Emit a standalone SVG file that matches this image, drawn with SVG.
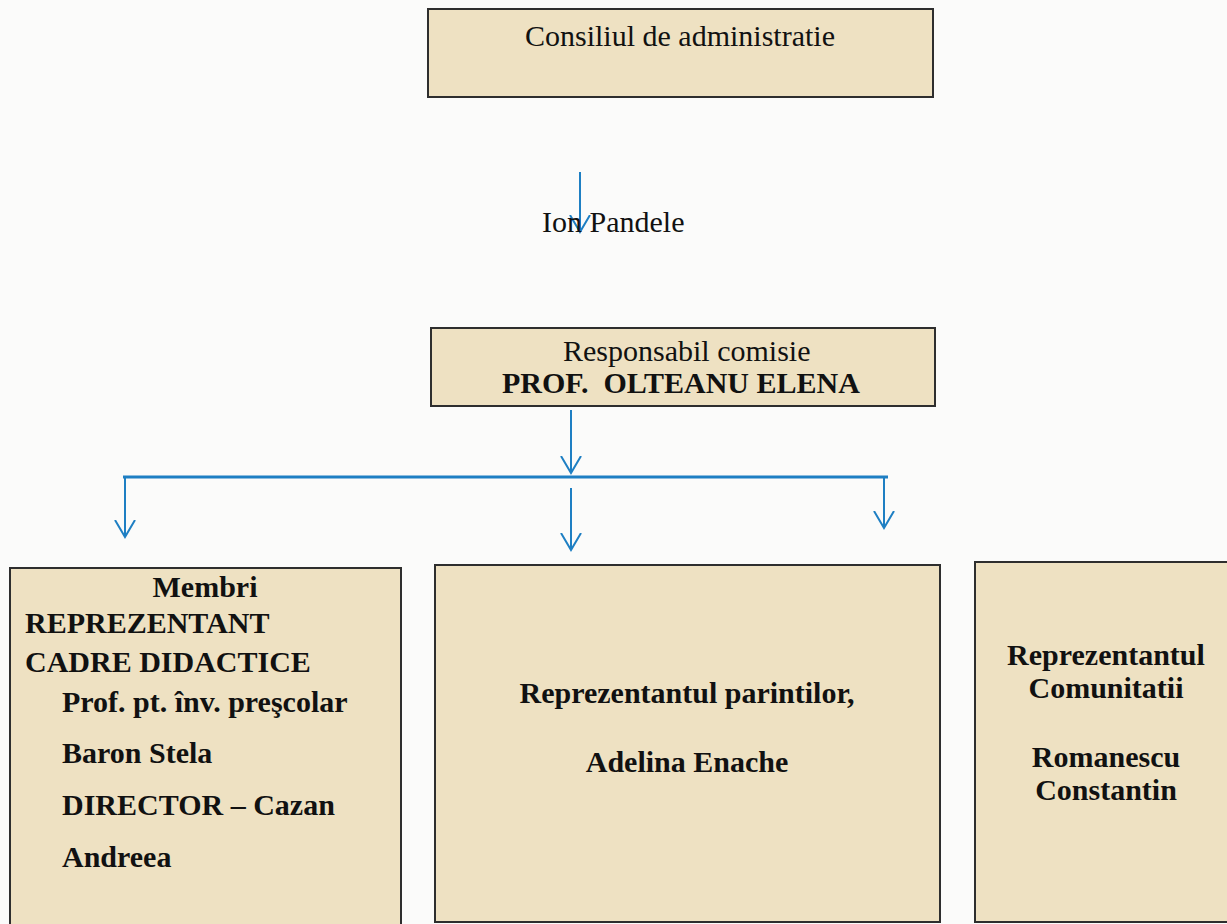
<svg xmlns="http://www.w3.org/2000/svg" width="1227" height="924" viewBox="0 0 1227 924">
<style>
.box{fill:#eee1c2;stroke:#2e2e2e;stroke-width:2}
.t{font-family:"Liberation Serif","Times New Roman",serif;font-size:30px;fill:#111}
.b{font-weight:bold}
.m{text-anchor:middle}
.c{fill:none;stroke:#1e7fc3;stroke-width:2}
</style>
<defs>
<marker id="ah" viewBox="0 0 20 22" markerWidth="20" markerHeight="22" refX="17" refY="11" orient="auto" markerUnits="userSpaceOnUse">
<path d="M0,1 L17,11 L0,21" fill="none" stroke="#1e7fc3" stroke-width="2"/>
</marker>
</defs>
<rect width="1227" height="924" fill="#fbfbfa"/>
<g id="connectors">
<line class="c" x1="580" y1="172" x2="580" y2="232" marker-end="url(#ah)"/>
<line class="c" x1="571" y1="410" x2="571" y2="473" marker-end="url(#ah)"/>
<line class="c" x1="123" y1="477" x2="888" y2="477" style="stroke-width:3"/>
<line class="c" x1="125" y1="478" x2="125" y2="537" marker-end="url(#ah)"/>
<line class="c" x1="571" y1="488" x2="571" y2="550" marker-end="url(#ah)"/>
<line class="c" x1="884" y1="478" x2="884" y2="528" marker-end="url(#ah)"/>
</g>
<g id="consiliul">
<rect class="box" x="428" y="9" width="505" height="88"/>
<text class="t m" x="680" y="46">Consiliul de administratie</text>
</g>
<g id="ion-pandele">
<text class="t" x="542" y="232">Ion Pandele</text>
</g>
<g id="responsabil">
<rect class="box" x="431" y="328" width="504" height="78"/>
<text class="t" x="563" y="361">Responsabil comisie</text>
<text class="t b" x="502" y="393" xml:space="preserve">PROF.  OLTEANU ELENA</text>
</g>
<g id="membri">
<rect class="box" x="10" y="568" width="391" height="380"/>
<text class="t b m" x="205" y="597">Membri</text>
<text class="t b" x="25" y="633">REPREZENTANT</text>
<text class="t b" x="25" y="672">CADRE DIDACTICE</text>
<text class="t b" x="62" y="712">Prof. pt. înv. preşcolar</text>
<text class="t b" x="62" y="763">Baron Stela</text>
<text class="t b" x="62" y="815">DIRECTOR – Cazan</text>
<text class="t b" x="62" y="867">Andreea</text>
</g>
<g id="parinti">
<rect class="box" x="435" y="565" width="505" height="357"/>
<text class="t b m" x="687" y="703">Reprezentantul parintilor,</text>
<text class="t b m" x="687" y="772">Adelina Enache</text>
</g>
<g id="comunitate">
<rect class="box" x="975" y="562" width="270" height="360"/>
<text class="t b m" x="1106" y="665">Reprezentantul</text>
<text class="t b m" x="1106" y="698">Comunitatii</text>
<text class="t b m" x="1106" y="767">Romanescu</text>
<text class="t b m" x="1106" y="800">Constantin</text>
</g>
</svg>
